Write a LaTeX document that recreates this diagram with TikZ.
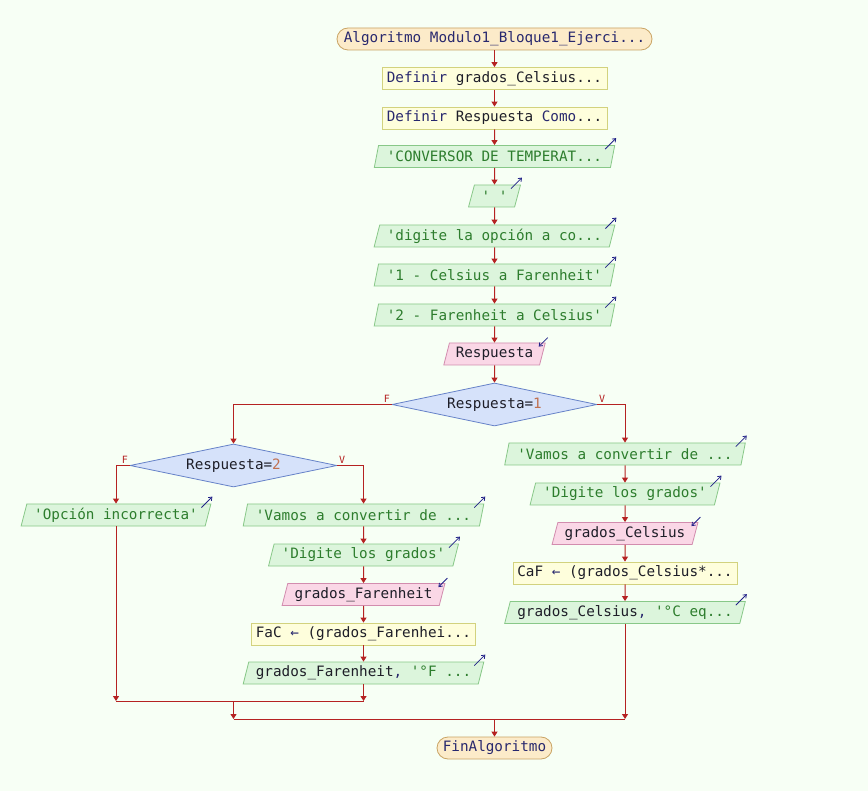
\documentclass[tikz,border=0pt]{standalone}
\usepackage{fontspec}
\setmonofont{DejaVu Sans Mono}
\usetikzlibrary{shapes.geometric, arrows.meta}
\definecolor{bgc}{HTML}{F7FFF5}
\definecolor{termfill}{HTML}{FCEBC9}
\definecolor{termline}{HTML}{C9A464}
\definecolor{procfill}{HTML}{FEFEDC}
\definecolor{procline}{HTML}{D2D27E}
\definecolor{outfill}{HTML}{DCF5DC}
\definecolor{outline}{HTML}{88C888}
\definecolor{infill}{HTML}{FAD7E6}
\definecolor{inline}{HTML}{D28CAE}
\definecolor{condfill}{HTML}{D6E2FA}
\definecolor{condline}{HTML}{6682C8}
\definecolor{flow}{HTML}{B52222}
\definecolor{kwc}{HTML}{28286E}
\definecolor{txtc}{HTML}{1E1E28}
\definecolor{strc}{HTML}{2D7D2D}
\definecolor{numc}{HTML}{C07050}
\definecolor{icoc}{HTML}{222288}
\tikzset{
    %Define standard arrow tip
    >={Triangle[length=5pt,width=6pt]},
    %Define base style for all blocks
    blk/.style={
           inner sep=0pt,
           minimum height=22pt,
           line width=0.8pt,
           text=txtc,
           text centered,
           font=\ttfamily\fontsize{14.3}{16}\selectfont},
    %different type of node
    term/.style={blk, rectangle, rounded corners=11pt,
           draw=termline, fill=termfill, text=kwc},
    proc/.style={blk, rectangle, draw=procline, fill=procfill},
    outp/.style={blk, trapezium, trapezium left angle=70,
           trapezium right angle=110, trapezium stretches=true,
           draw=outline, fill=outfill, text=strc},
    inp/.style={outp, draw=inline, fill=infill, text=txtc},
    cond/.style={blk, diamond, aspect=4.8, minimum height=43pt,
           draw=condline, fill=condfill},
    % Define arrow style
    pil/.style={->, draw=flow, line width=1pt},
    flw/.style={draw=flow, line width=1pt},
    flag/.style={text=flow, inner sep=1.5pt,
           font=\ttfamily\fontsize{10}{12}\selectfont},
    ico/.style={-{Straight Barb[length=3pt,width=4.5pt]}, draw=icoc, line width=0.8pt}
}
\newcommand{\kw}[1]{{\color{kwc}#1}}
\newcommand{\outmark}[1]{\draw[ico] ([shift={(-10,4)}]#1.top right corner) -- ([shift={(1,-7)}]#1.top right corner);}
\newcommand{\inmark}[1]{\draw[ico] ([shift={(2,-5)}]#1.top right corner) -- ([shift={(-7,4)}]#1.top right corner);}
\begin{document}
\begin{tikzpicture}[x=1pt, y=-1pt]

\fill[bgc] (0,0) rectangle (868,791);
\useasboundingbox (0,0) rectangle (868,791);

\node[term, minimum width=315pt] (start) at (494.5,39) {Algoritmo Modulo1\_Bloque1\_Ejerci...};
\node[proc, minimum width=225pt] (def1) at (494.5,78.5) {\kw{Definir} grados\_Celsius...};
\node[proc, minimum width=225pt] (def2) at (494.5,118) {\kw{Definir} Respuesta \kw{Como}...};
\node[outp, minimum width=241pt] (conv) at (494.5,156.5) {'CONVERSOR DE TEMPERAT...};
\node[outp, minimum width=52pt] (blank) at (494.5,196) {' '};
\node[outp, minimum width=241pt] (dig) at (494.5,236) {'digite la opción a co...};
\node[outp, minimum width=241pt] (op1) at (494.5,275) {'1 - Celsius a Farenheit'};
\node[outp, minimum width=241pt] (op2) at (494.5,315) {'2 - Farenheit a Celsius'};
\node[inp, minimum width=102pt] (resp) at (494.5,354) {Respuesta};
\node[cond, minimum width=205pt] (if1) at (494.5,404.5) {Respuesta=\textcolor{numc}{1}};
\node[cond, minimum width=207pt] (if2) at (233.5,465.5) {Respuesta=\textcolor{numc}{2}};

% V branch of the first condition
\node[outp, minimum width=241pt] (vamC) at (625,454) {'Vamos a convertir de ...};
\node[outp, minimum width=190pt] (digC) at (625,494) {'Digite los grados'};
\node[inp, minimum width=146pt] (readC) at (625,533.5) {grados\_Celsius};
\node[proc, minimum width=224pt] (calcC) at (625,573) {CaF \kw{←} (grados\_Celsius*...};
\node[outp, minimum width=241pt] (showC) at (625,612.5) {\textcolor{txtc}{grados\_Celsius}\kw{,} '°C eq...};

% V branch of the second condition
\node[outp, minimum width=241pt] (vamF) at (363.5,515) {'Vamos a convertir de ...};
\node[outp, minimum width=190pt] (digF) at (363.5,555) {'Digite los grados'};
\node[inp, minimum width=163pt] (readF) at (363.5,594.5) {grados\_Farenheit};
\node[proc, minimum width=224pt] (calcF) at (363.5,634) {FaC \kw{←} (grados\_Farenhei...};
\node[outp, minimum width=241pt] (showF) at (363.5,673) {\textcolor{txtc}{grados\_Farenheit}\kw{,} '°F ...};

% F branch of the second condition
\node[outp, minimum width=190pt] (bad) at (116,515) {'Opción incorrecta'};

\node[term, minimum width=115pt] (fin) at (494.5,748) {FinAlgoritmo};

\coordinate (j1) at (233.5,701);
\coordinate (j2) at (494.5,719);

\outmark{conv} \outmark{blank} \outmark{dig} \outmark{op1} \outmark{op2}
\outmark{vamC} \outmark{digC} \outmark{showC}
\outmark{vamF} \outmark{digF} \outmark{showF} \outmark{bad}
\inmark{resp} \inmark{readC} \inmark{readF}

\path
(start) edge[pil] (def1)
(def1)  edge[pil] (def2)
(def2)  edge[pil] (conv)
(conv)  edge[pil] (blank)
(blank) edge[pil] (dig)
(dig)   edge[pil] (op1)
(op1)   edge[pil] (op2)
(op2)   edge[pil] (resp)
(resp)  edge[pil] (if1)
(vamC)  edge[pil] (digC)
(digC)  edge[pil] (readC)
(readC) edge[pil] (calcC)
(calcC) edge[pil] (showC)
(vamF)  edge[pil] (digF)
(digF)  edge[pil] (readF)
(readF) edge[pil] (calcF)
(calcF) edge[pil] (showF);

\draw[pil] (if1.west) -| (if2.north);
\draw[pil] (if1.east) -| (vamC.north);
\draw[pil] (if2.west) -| (bad.north);
\draw[pil] (if2.east) -| (vamF.north);
\node[flag, anchor=south east] (f1) at (if1.west) {F};
\node[flag, anchor=south west] (v1) at (if1.east) {V};
\node[flag, anchor=south east] (f2) at (if2.west) {F};
\node[flag, anchor=south west] (v2) at (if2.east) {V};

\draw[pil] (bad.south) -- (bad.south |- j1);
\draw[pil] (showF.south) -- (showF.south |- j1);
\draw[flw] (bad.south |- j1) -- (showF.south |- j1);
\draw[pil] (j1) -- (j1 |- j2);
\draw[pil] (showC.south) -- (showC.south |- j2);
\draw[flw] (j1 |- j2) -- (showC.south |- j2);
\draw[pil] (j2) -- (fin.north);

\end{tikzpicture}
\end{document}
